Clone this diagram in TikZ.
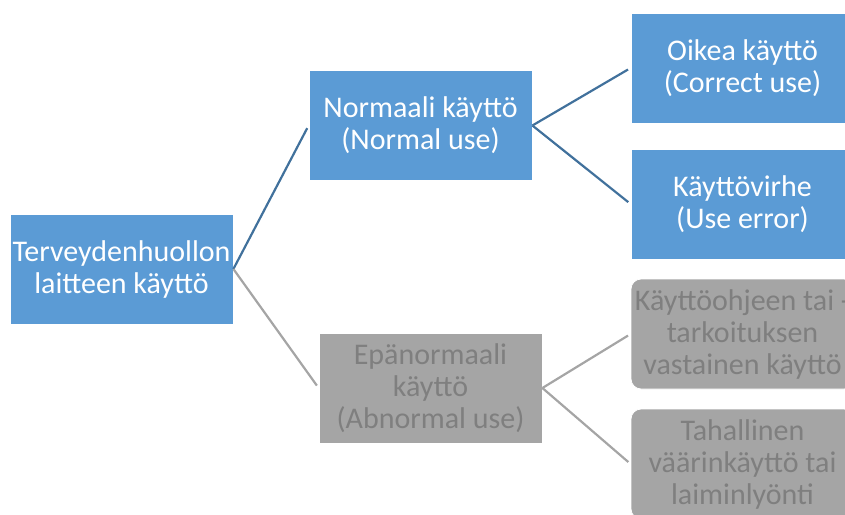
\documentclass[tikz,border=0pt]{standalone}
\usepackage{fontspec}
\setmainfont{Carlito}
\definecolor{boxblue}{HTML}{5B9BD5}
\definecolor{lineblue}{HTML}{41719C}
\definecolor{boxgray}{HTML}{A5A5A5}
\definecolor{textgray}{HTML}{7F7F7F}
\definecolor{linegray}{HTML}{A5A5A5}
\tikzset{
  card/.style={minimum width=223pt, minimum height=110pt, inner sep=0pt,
    align=center, font=\fontsize{30}{32}\selectfont, draw=white, line width=0.8pt},
  bluecard/.style={card, fill=boxblue, text=white},
  graycard/.style={card, fill=boxgray, text=textgray},
  roundgray/.style={graycard, rounded corners=10pt},
  blueline/.style={draw=lineblue, line width=2.2pt},
  grayline/.style={draw=linegray, line width=2.2pt},
}
\begin{document}
\begin{tikzpicture}[x=1pt,y=-1pt]
\useasboundingbox (0,0) rectangle (845,514);
\clip (0,0) rectangle (845,514);
\node[bluecard] (root) at (121.5,269) {Terveydenhuollon\\laitteen käyttö};
\node[bluecard] (normal) at (420.5,125.5) {Normaali käyttö\\(Normal use)};
\node[graycard] (abnormal) at (430.5,388) {Epänormaali\\käyttö\\(Abnormal use)};
\node[bluecard] (oikea) at (742.5,68) {Oikea käyttö\\(Correct use)};
\node[bluecard] (virhe) at (742.5,204) {Käyttövirhe\\(Use error)};
\node[roundgray] (ohje) at (742.5,334) {Käyttöohjeen tai -\\tarkoituksen\\vastainen käyttö};
\node[roundgray] (tahallinen) at (742.5,464) {Tahallinen\\väärinkäyttö tai\\laiminlyönti};
\draw[blueline, shorten >=3pt] (root.east) -- (normal.west);
\draw[grayline, shorten >=3pt] (root.east) -- (abnormal.west);
\draw[blueline, shorten >=3pt] (normal.east) -- (oikea.west);
\draw[blueline, shorten >=3pt] (normal.east) -- (virhe.west);
\draw[grayline, shorten >=3pt] (abnormal.east) -- (ohje.west);
\draw[grayline, shorten >=3pt] (abnormal.east) -- (tahallinen.west);
\end{tikzpicture}
\end{document}
